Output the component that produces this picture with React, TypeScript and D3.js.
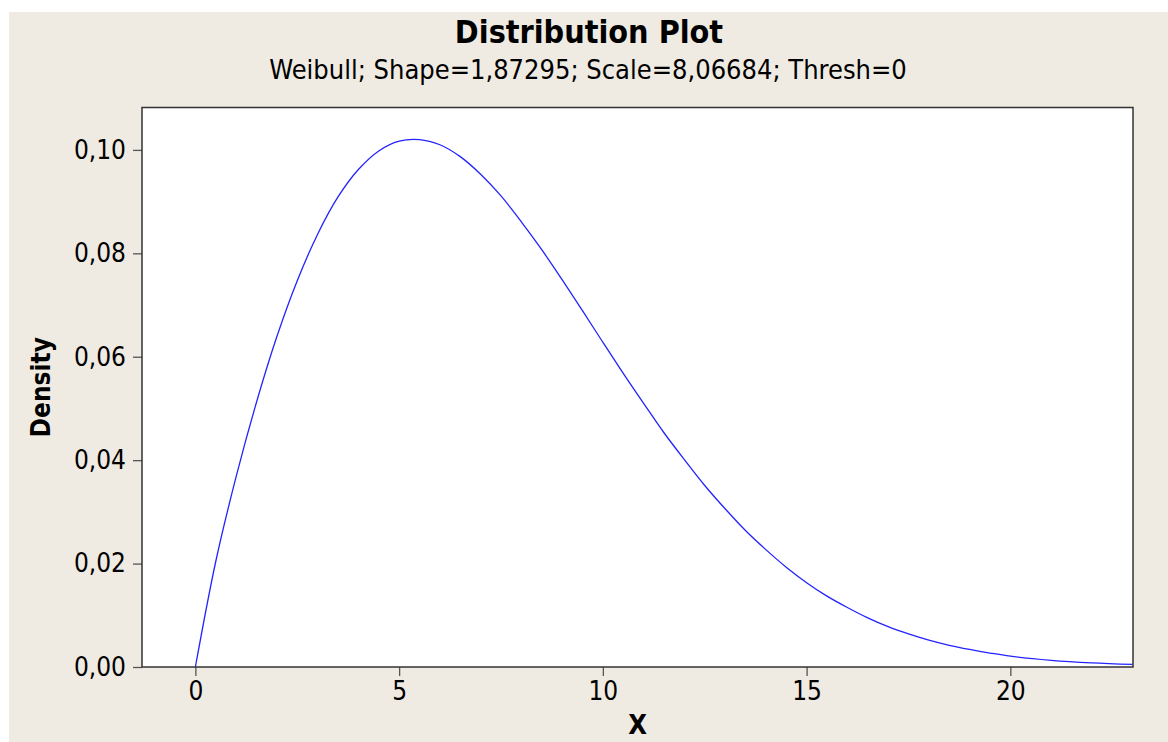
import * as d3 from "d3";
import { useEffect, useRef } from "react";

// density values
const xs = [0, 0.5, 1, 1.5, 2, 2.5, 3, 3.5, 4, 4.5, 5, 5.5, 6, 6.5, 7, 7.5, 8, 8.5, 9, 9.5, 10, 10.5, 11, 11.5, 12, 12.5, 13, 13.5, 14, 14.5, 15, 15.5, 16, 16.5, 17, 17.5, 18, 18.5, 19, 19.5, 20, 21, 22, 23];
const density = [0, 0.0204, 0.0368, 0.0512, 0.0639, 0.0747, 0.0837, 0.0909, 0.0962, 0.0998, 0.1017, 0.102, 0.101, 0.0987, 0.0953, 0.0911, 0.0861, 0.0807, 0.0749, 0.0689, 0.0628, 0.0568, 0.051, 0.0453, 0.0401, 0.0351, 0.0306, 0.0264, 0.0227, 0.0193, 0.0163, 0.0137, 0.0115, 0.0095, 0.0078, 0.0064, 0.0052, 0.0042, 0.0034, 0.0027, 0.0021, 0.0013, 0.0008, 0.0005];

const xTicks = [0, 5, 10, 15, 20];
const yTicks = [0, 0.02, 0.04, 0.06, 0.08, 0.1];

const title = "Distribution Plot";
const subtitle = "Weibull; Shape=1,87295; Scale=8,06684; Thresh=0";

export default function App() {
    const ref = useRef<SVGSVGElement>(null);

    useEffect(() => {
        const svg = d3.select(ref.current);
        svg.selectAll("*").remove();

        const width = 1168,
            height = 742;
        const left = 142,
            right = 1133,
            top = 107.5,
            bottom = 667;
        const font = "'DejaVu Sans Condensed', 'DejaVu Sans', sans-serif";

        const x = d3.scaleLinear().domain([-1.31, 23.01]).range([left, right]);
        const y = d3.scaleLinear().domain([0, 0.1082]).range([bottom, top]);

        // background
        svg.append("rect").attr("width", width).attr("height", height).attr("fill", "#fff");
        svg.append("rect")
            .attr("x", 9)
            .attr("y", 12)
            .attr("width", width - 9)
            .attr("height", height - 12)
            .attr("fill", "#efebe2");
        svg.append("rect")
            .attr("x", left)
            .attr("y", top)
            .attr("width", right - left)
            .attr("height", bottom - top)
            .attr("fill", "#fff");

        // titles
        svg.append("text")
            .attr("x", 589)
            .attr("y", 43)
            .attr("text-anchor", "middle")
            .attr("font-family", font)
            .attr("font-weight", "bold")
            .attr("font-size", 32)
            .attr("fill", "#000")
            .text(title);

        svg.append("text")
            .attr("x", 588)
            .attr("y", 79)
            .attr("text-anchor", "middle")
            .attr("font-family", font)
            .attr("font-size", 27)
            .attr("fill", "#000")
            .text(subtitle);

        // curve
        const line = d3
            .line<number>()
            .x((d, i) => x(xs[i]))
            .y((d) => y(d))
            .curve(d3.curveCatmullRom);

        svg.append("path")
            .datum(density)
            .attr("fill", "none")
            .attr("stroke", "#2323ff")
            .attr("stroke-width", 1.3)
            .attr("d", line);

        // axes
        const xAxis = d3.axisBottom(x).tickValues(xTicks).tickSize(9).tickPadding(6).tickFormat(d3.format("d"));
        const yAxis = d3
            .axisLeft(y)
            .tickValues(yTicks)
            .tickSize(9)
            .tickPadding(7)
            .tickFormat((d) => d3.format(".2f")(d as number).replace(".", ","));

        const gx = svg.append("g").attr("transform", `translate(0, ${bottom})`).call(xAxis);
        const gy = svg.append("g").attr("transform", `translate(${left}, 0)`).call(yAxis);

        [gx, gy].forEach((g) => {
            g.select(".domain").remove();
            g.selectAll("line").attr("stroke", "#555").attr("stroke-width", 1.3);
            g.selectAll("text")
                .attr("font-family", font)
                .attr("font-size", 26)
                .attr("fill", "#000");
        });

        // frame
        svg.append("rect")
            .attr("x", left)
            .attr("y", top)
            .attr("width", right - left)
            .attr("height", bottom - top)
            .attr("fill", "none")
            .attr("stroke", "#333")
            .attr("stroke-width", 1.5);

        // axis labels
        svg.append("text")
            .attr("transform", `translate(50, ${(top + bottom) / 2}) rotate(-90)`)
            .attr("text-anchor", "middle")
            .attr("font-family", font)
            .attr("font-weight", "bold")
            .attr("font-size", 26)
            .attr("fill", "#000")
            .text("Density");

        svg.append("text")
            .attr("x", (left + right) / 2)
            .attr("y", 734)
            .attr("text-anchor", "middle")
            .attr("font-family", font)
            .attr("font-weight", "bold")
            .attr("font-size", 27)
            .attr("fill", "#000")
            .text("X");
    }, []);

    return (
        <svg
            ref={ref}
            width={1168}
            height={742}
            style={{ position: "absolute", left: 0, top: 0 }}
        ></svg>
    );
}
